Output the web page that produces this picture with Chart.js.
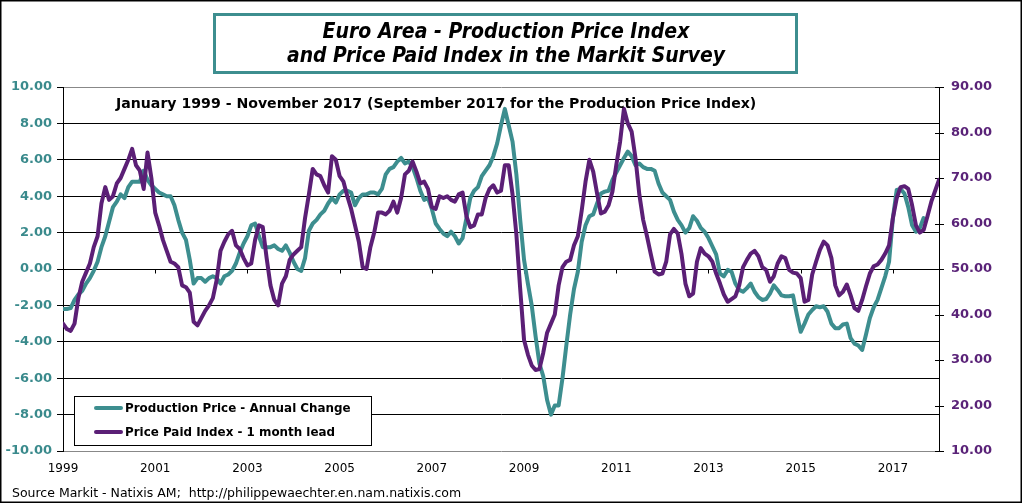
<!DOCTYPE html>
<html><head><meta charset="utf-8">
<script src="https://cdn.jsdelivr.net/npm/chart.js@4.4.0/dist/chart.umd.min.js"></script>
<style>html,body{margin:0;padding:0;background:#fff;}canvas{display:block;}</style>
</head><body>
<canvas id="c" width="1023" height="504"></canvas>
<script>
// Tick labels of the time axis (one every 24 months, starting January 1999)
const yearLabels = ['1999','2001','2003','2005','2007','2009','2011','2013','2015','2017'];

// Production Price - Annual Change (%, left axis), monthly Jan 1999 - Sep 2017
const productionPrice = [
-2.2,-2.2,-2.15,-1.7,-1.4,-1.2,-0.8,-0.5,-0.1,0.4,1.2,1.8,
2.6,3.4,3.7,4.1,3.9,4.5,4.8,4.8,4.8,5.4,4.9,4.6,
4.4,4.2,4.1,4.0,4.0,3.5,2.7,2.0,1.6,0.5,-0.8,-0.5,
-0.5,-0.7,-0.5,-0.4,-0.5,-0.8,-0.4,-0.3,-0.1,0.3,0.9,1.4,
1.8,2.4,2.5,1.8,1.2,1.2,1.2,1.3,1.1,1.0,1.3,0.9,
0.4,0.0,-0.1,0.6,2.1,2.5,2.7,3.0,3.2,3.6,3.9,3.65,
4.1,4.3,4.3,4.2,3.5,3.9,4.1,4.1,4.2,4.2,4.1,4.4,
5.2,5.5,5.6,5.9,6.1,5.8,5.9,5.6,5.0,4.3,3.8,3.9,
3.3,2.5,2.2,1.95,1.8,2.05,1.8,1.4,1.7,2.8,3.9,4.3,
4.5,5.1,5.4,5.7,6.2,6.9,7.9,8.8,7.9,7.0,5.2,2.7,
0.5,-0.8,-2.0,-3.7,-5.2,-5.9,-7.2,-8.0,-7.5,-7.5,-6.0,-4.2,
-2.5,-1.1,-0.15,1.5,2.4,2.9,3.0,3.6,4.15,4.25,4.3,4.9,
5.3,5.7,6.1,6.45,6.2,5.7,5.8,5.6,5.5,5.5,5.4,4.7,
4.2,4.0,3.8,3.15,2.7,2.4,2.0,2.25,2.9,2.65,2.25,2.05,
1.7,1.25,0.8,-0.25,-0.4,-0.05,-0.15,-0.8,-1.15,-1.25,-1.05,-0.8,
-1.25,-1.55,-1.7,-1.65,-1.35,-0.9,-1.15,-1.45,-1.5,-1.5,-1.45,-2.5,
-3.45,-3.0,-2.5,-2.25,-2.05,-2.1,-2.05,-2.35,-3.0,-3.25,-3.25,-3.05,
-3.0,-3.8,-4.1,-4.2,-4.45,-3.6,-2.7,-2.1,-1.7,-1.05,-0.4,0.4,
2.8,4.35,4.4,4.15,3.4,2.4,2.05,2.25,2.8
];

// Price Paid Index - 1 month lead (index, right axis), monthly Jan 1999 - Jan 2018
const pricePaid = [
38.0,36.8,36.4,38.0,43.6,47.2,49.2,51.2,54.8,57.2,64.4,68.0,
65.2,66.0,68.8,70.0,72.0,74.0,76.4,72.8,71.6,67.6,75.6,70.0,
62.4,59.6,56.4,54.0,51.6,51.2,50.4,46.4,46.0,44.8,38.4,37.6,
39.2,40.8,42.0,43.6,47.6,54.0,56.0,57.6,58.4,55.2,54.4,52.4,
50.8,51.2,56.4,59.6,59.2,52.4,46.4,43.2,42.0,46.8,48.4,52.0,
53.2,54.0,54.8,61.2,66.4,72.0,70.8,70.4,68.4,66.8,74.8,74.0,
70.4,69.2,66.0,63.2,59.6,56.0,50.4,50.0,54.8,58.0,62.4,62.4,
62.0,62.8,64.8,62.4,65.6,70.8,71.6,73.6,71.4,68.8,69.2,67.6,
63.6,63.2,66.0,65.6,66.0,65.2,64.8,66.4,66.8,61.6,59.2,59.6,
62.0,62.0,65.6,67.6,68.4,66.8,67.2,72.8,72.8,66.4,57.6,45.6,
34.4,31.2,28.8,27.8,28.0,31.6,36.0,38.0,40.0,46.4,50.4,51.6,
52.0,55.2,57.2,62.8,69.2,74.0,71.4,66.6,62.2,62.6,64.0,67.0,
72.8,78.0,85.2,82.0,80.2,74.4,66.4,60.8,57.2,53.2,49.4,48.8,
49.0,51.6,57.6,58.8,57.8,53.2,46.8,44.0,44.6,51.6,54.6,53.4,
52.8,51.6,49.0,46.8,44.4,42.8,43.4,44.0,46.4,50.4,52.0,53.4,
54.0,52.8,50.4,49.8,47.2,48.4,51.2,52.8,52.4,49.8,49.2,49.0,
48.0,42.8,43.2,48.8,51.6,54.2,56.0,55.2,52.4,46.4,44.2,45.0,
46.6,44.2,41.4,40.8,43.2,46.2,49.0,50.6,51.0,52.0,53.4,55.2,
61.2,65.6,68.0,68.2,67.6,64.0,59.6,58.0,58.6,61.6,64.8,67.2,69.6
];

const titleLines = ['Euro Area - Production Price Index', 'and Price Paid Index in the Markit Survey'];
const subtitle = 'January 1999 - November 2017 (September 2017 for the Production Price Index)';
const sourceText = 'Source Markit - Natixis AM;  http://philippewaechter.en.nam.natixis.com';
const seriesNames = ['Production Price - Annual Change', 'Price Paid Index - 1 month lead'];

const TEAL = '#3d8e8f';
const TEAL_TXT = '#3a8a8c';
const PURPLE = '#5b1f76';
const PURPLE_TXT = '#5a2378';
const FONT = "'DejaVu Sans', Verdana, sans-serif";

function fitFont(ctx, text, style, family, target) {
  ctx.font = style + ' 20px ' + family;
  const w = ctx.measureText(text).width;
  return style + ' ' + (20 * target / w).toFixed(2) + 'px ' + family;
}

const deco = {
  id: 'deco',
  beforeDraw(chart) {
    const ctx = chart.ctx;
    ctx.save();
    ctx.fillStyle = '#fff';
    ctx.fillRect(0, 0, chart.width, chart.height);
    ctx.restore();
  },
  beforeDatasetsDraw(chart) {
    const ctx = chart.ctx;
    const x = chart.scales.x, y = chart.scales.y, y2 = chart.scales.y2;
    ctx.save();
    ctx.strokeStyle = '#000';
    ctx.lineWidth = 1;
    // small tick marks on the zero line
    const y0 = Math.round(y.getPixelForValue(0)) + 0.5;
    x.ticks.forEach(t => {
      const px = Math.round(x.getPixelForValue(t.value)) + 0.5;
      ctx.beginPath(); ctx.moveTo(px, y0); ctx.lineTo(px, y0 + 4); ctx.stroke();
    });
    // crossing tick marks on the right axis
    y2.ticks.forEach(t => {
      const py = Math.round(y2.getPixelForValue(t.value)) + 0.5;
      ctx.beginPath(); ctx.moveTo(chart.chartArea.right - 4, py); ctx.lineTo(chart.chartArea.right + 5, py); ctx.stroke();
    });
    ctx.restore();
  },
  afterDraw(chart) {
    const ctx = chart.ctx;
    ctx.save();
    // outer frame
    ctx.strokeStyle = '#000';
    ctx.lineWidth = 1.5;
    ctx.strokeRect(0.75, 0.75, 1020.5, 501.5);
    // title box
    ctx.fillStyle = '#fff';
    ctx.fillRect(214, 14, 582, 59);
    ctx.strokeStyle = TEAL;
    ctx.lineWidth = 3;
    ctx.strokeRect(214.5, 14.5, 582, 58);
    ctx.fillStyle = '#000';
    ctx.textAlign = 'center';
    ctx.textBaseline = 'alphabetic';
    const tf = "'DejaVu Sans Condensed', 'DejaVu Sans', sans-serif";
    ctx.font = fitFont(ctx, titleLines[0], 'italic bold', tf, 367);
    ctx.fillText(titleLines[0], 506, 38);
    ctx.font = fitFont(ctx, titleLines[1], 'italic bold', tf, 438);
    ctx.fillText(titleLines[1], 506, 62);
    // subtitle
    ctx.textAlign = 'left';
    ctx.font = fitFont(ctx, subtitle, 'bold', FONT, 641);
    ctx.fillText(subtitle, 116, 108);
    // source
    ctx.font = fitFont(ctx, sourceText, 'normal', FONT, 449);
    ctx.fillText(sourceText, 12, 497);
    // legend
    ctx.fillStyle = '#fff';
    ctx.fillRect(74, 396, 297, 49);
    ctx.strokeStyle = '#000';
    ctx.lineWidth = 1;
    ctx.strokeRect(74.5, 396.5, 297, 49);
    const rows = [{c: TEAL, y: 408, t: seriesNames[0], w: 226}, {c: PURPLE, y: 432, t: seriesNames[1], w: 212}];
    const lf = fitFont(ctx, seriesNames[0], 'bold', FONT, 226);
    rows.forEach(r => {
      ctx.strokeStyle = r.c; ctx.lineWidth = 4; ctx.lineCap = 'round';
      ctx.beginPath(); ctx.moveTo(96, r.y); ctx.lineTo(121, r.y); ctx.stroke();
      ctx.fillStyle = '#000'; ctx.font = lf; ctx.textBaseline = 'middle';
      ctx.fillText(r.t, 125, r.y + 0.5);
    });
    ctx.restore();
  }
};

new Chart(document.getElementById('c'), {
  type: 'line',
  data: {
    datasets: [
      { label: seriesNames[0], data: productionPrice.map((v, i) => ({x: i, y: v})),
        borderColor: TEAL, backgroundColor: TEAL, borderWidth: 4, pointRadius: 0, tension: 0,
        borderJoinStyle: 'round', borderCapStyle: 'round', yAxisID: 'y', order: 2 },
      { label: seriesNames[1], data: pricePaid.map((v, i) => ({x: i, y: v})),
        borderColor: PURPLE, backgroundColor: PURPLE, borderWidth: 4, pointRadius: 0, tension: 0,
        borderJoinStyle: 'round', borderCapStyle: 'round', yAxisID: 'y2', order: 1 }
    ]
  },
  options: {
    responsive: false, animation: false, devicePixelRatio: 1,
    layout: { padding: { top: 87, left: 0, right: 0, bottom: 0 } },
    plugins: { legend: { display: false }, tooltip: { enabled: false }, title: { display: false } },
    scales: {
      x: {
        type: 'linear', min: 0, max: 228, position: 'bottom',
        afterBuildTicks: s => { s.ticks = yearLabels.map((_, i) => ({ value: i * 24 })); },
        afterFit: s => { s.height = 53; },
        grid: { display: false, drawTicks: false }, border: { display: false },
        ticks: { autoSkip: false, maxRotation: 0, padding: 11, color: '#000',
          font: { family: FONT, size: 12 }, callback: (v, i) => yearLabels[i] }
      },
      y: {
        position: 'left', min: -10, max: 10,
        afterFit: s => { s.width = 63; },
        grid: { color: c => (c.tick && Math.abs(c.tick.value) === 10) ? '#888' : '#000',
          tickColor: '#000', tickLength: 6, lineWidth: 1 },
        border: { color: '#000', width: 1 },
        ticks: { stepSize: 2, padding: 5, color: TEAL_TXT,
          font: { family: FONT, size: 13, weight: 'bold' }, callback: v => Number(v).toFixed(2) }
      },
      y2: {
        position: 'right', min: 10, max: 90,
        afterFit: s => { s.width = 84; },
        grid: { drawOnChartArea: false, drawTicks: false },
        border: { color: '#000', width: 1 },
        ticks: { stepSize: 10, padding: 12, color: PURPLE_TXT,
          font: { family: FONT, size: 13, weight: 'bold' }, callback: v => Number(v).toFixed(2) }
      }
    }
  },
  plugins: [deco]
});
</script>
</body></html>
